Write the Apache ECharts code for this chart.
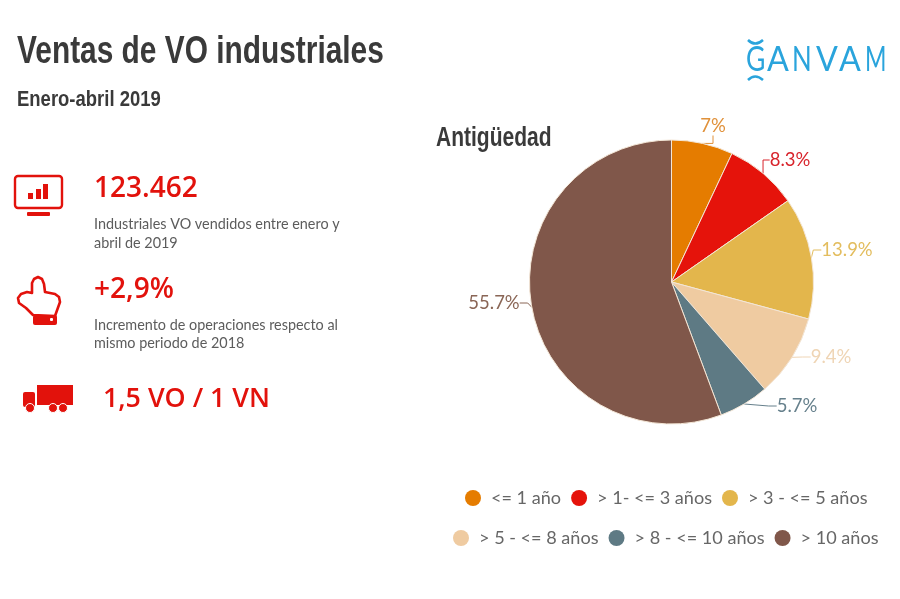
<!DOCTYPE html>
<html lang="es">

<head>
    <meta charset="UTF-8">
    <title>Ventas de VO industriales</title>
    <script src="https://cdn.jsdelivr.net/npm/echarts@6/dist/echarts.min.js"></script>
    <style>
        html, body { margin: 0; padding: 0; background: #fff; }
        #main { width: 900px; height: 599px; }
    </style>
</head>

<body>
    <div id="main"></div>
</body>

</html>

<script type="text/javascript">
    var myChart = echarts.init(document.getElementById('main'))

    const red = '#e2120c'
    const grey = '#5c5c5c'
    const blue = '#2aa4dc'
    const heading = '"Liberation Sans"'

    const ages = [
        { name: '<= 1 año', value: 7, color: '#e57c00', labelColor: '#e0913a', pos: [713, 126] },
        { name: '> 1- <= 3 años', value: 8.3, color: '#e5130b', labelColor: '#d8242c', pos: [790, 160] },
        { name: '> 3 - <= 5 años', value: 13.9, color: '#e3b64c', labelColor: '#e3bd5e', pos: [847, 250] },
        { name: '> 5 - <= 8 años', value: 9.4, color: '#efcba1', labelColor: '#efd5b5', pos: [831, 357] },
        { name: '> 8 - <= 10 años', value: 5.7, color: '#5e7a84', labelColor: '#66808c', pos: [797, 406] },
        { name: '> 10 años', value: 55.7, color: '#80574a', labelColor: '#8a6656', pos: [494, 303] }
    ]

    function text (x, y, str, size, color, weight, family, squeeze) {
        return {
            type: 'text',
            x: x,
            y: y,
            scaleX: squeeze || 1,
            style: {
                text: str,
                fontSize: size,
                fill: color,
                fontWeight: weight || 'normal',
                fontFamily: family || 'Lato',
                verticalAlign: 'middle'
            }
        }
    }

    function box (x, y, w, h, r, fill) {
        return { type: 'rect', shape: { x: x, y: y, width: w, height: h, r: r || 0 }, style: { fill: fill || red } }
    }

    function wheel (x, y, r) {
        return { type: 'circle', shape: { cx: x, cy: y, r: r }, style: { fill: red, stroke: '#fff', lineWidth: 1 } }
    }

    function arc (x1, y1, cx, cy, x2, y2) {
        return {
            type: 'bezierCurve',
            shape: { x1: x1, y1: y1, cpx1: cx, cpy1: cy, x2: x2, y2: y2 },
            style: { fill: 'none', stroke: blue, lineWidth: 2.5 }
        }
    }

    var texts = [
        text(17, 53, 'Ventas de VO industriales', 38, '#3a3a3a', 'bold', heading, 0.786),
        text(17, 100, 'Enero-abril 2019', 22, '#3a3a3a', 'bold', heading, 0.84),
        text(436, 138, 'Antigüedad', 28, '#3a3a3a', 'bold', heading, 0.75),
        text(94, 189, '123.462', 28, red, 600, 'Open Sans'),
        text(94, 224, 'Industriales VO vendidos entre enero y', 14.4, grey),
        text(94, 243, 'abril de 2019', 14.4, grey),
        text(94, 290, '+2,9%', 28, red, 600, 'Open Sans'),
        text(94, 325, 'Incremento de operaciones respecto al', 14.4, grey),
        text(94, 343, 'mismo periodo de 2018', 14.4, grey),
        text(103, 399, '1,5 VO / 1 VN', 26.8, red, 600, 'Open Sans')
    ]

    var icons = [
        // monitor
        { type: 'rect', shape: { x: 15, y: 176, width: 47, height: 32, r: 3 }, style: { fill: 'none', stroke: red, lineWidth: 2.4 } },
        box(28, 193, 5, 6), box(36, 189, 5, 10), box(43, 184, 5, 15), box(27, 212, 23, 4, 1),
        // hand
        {
            type: 'polygon',
            shape: { points: [[32, 293], [32, 283], [34, 279], [38, 277], [42, 279], [44, 284], [45, 292], [55, 294], [59, 297], [60, 302], [55, 316], [33, 315], [26, 308], [19, 303], [18, 298], [21, 294], [27, 292]] },
            style: { fill: 'none', stroke: red, lineWidth: 2.6, lineJoin: 'round' }
        },
        box(33, 315, 24, 10, 2), box(50, 318, 3, 3, 1, '#fff'),
        // truck
        box(37, 385, 36, 20), box(23, 392, 12, 15, 2), wheel(30, 408, 4.5), wheel(53, 408, 4.5), wheel(63, 408, 4.5)
    ]

    // logo letters are spaced by hand: letter, x, squeeze
    var logo = [['G', 746, 0.78], ['A', 767, 0.95], ['N', 792, 0.76], ['V', 816, 0.95], ['A', 839, 0.95], ['M', 865, 0.68]].map(it => {
        return text(it[1], 60, it[0], 34, blue, 'normal', 'Lato', it[2])
    })
    logo.push(arc(748, 40, 755, 47, 763, 40), arc(748, 80, 755, 73, 763, 80))

    function legendRow (left, top, names) {
        return {
            left: left,
            top: top,
            icon: 'circle',
            itemWidth: 16,
            itemHeight: 16,
            itemGap: 10,
            itemStyle: { borderWidth: 0 },
            data: names,
            textStyle: { fontFamily: 'Lato', fontSize: 18.1, color: '#666', padding: [0, 0, 0, 5] }
        }
    }

    var option = {
        animation: false,
        backgroundColor: '#fff',
        color: ages.map(it => it.color),
        graphic: { elements: texts.concat(icons, logo) },
        legend: [
            legendRow(460, 484, ages.slice(0, 3).map(it => it.name)),
            legendRow(448, 524, ages.slice(3).map(it => it.name))
        ],
        series: [
            {
                type: 'pie',
                center: [671.5, 282],
                radius: [0, 142],
                startAngle: 90,
                clockwise: true,
                itemStyle: { borderColor: '#f3e6d6', borderWidth: 1 },
                label: {
                    formatter: '{c}%',
                    fontFamily: 'Lato',
                    fontSize: 18.5
                },
                labelLine: { show: true, length: 8, length2: 8, lineStyle: { width: 1 } },
                labelLayout: function (params) {
                    const p = ages[params.dataIndex].pos
                    return { x: p[0], y: p[1], align: 'center', verticalAlign: 'middle' }
                },
                data: ages.map(it => {
                    return {
                        name: it.name,
                        value: it.value,
                        itemStyle: { color: it.color },
                        label: { color: it.labelColor },
                        labelLine: { lineStyle: { color: it.labelColor } }
                    }
                })
            }
        ]
    }

    myChart.setOption(option)
</script>
